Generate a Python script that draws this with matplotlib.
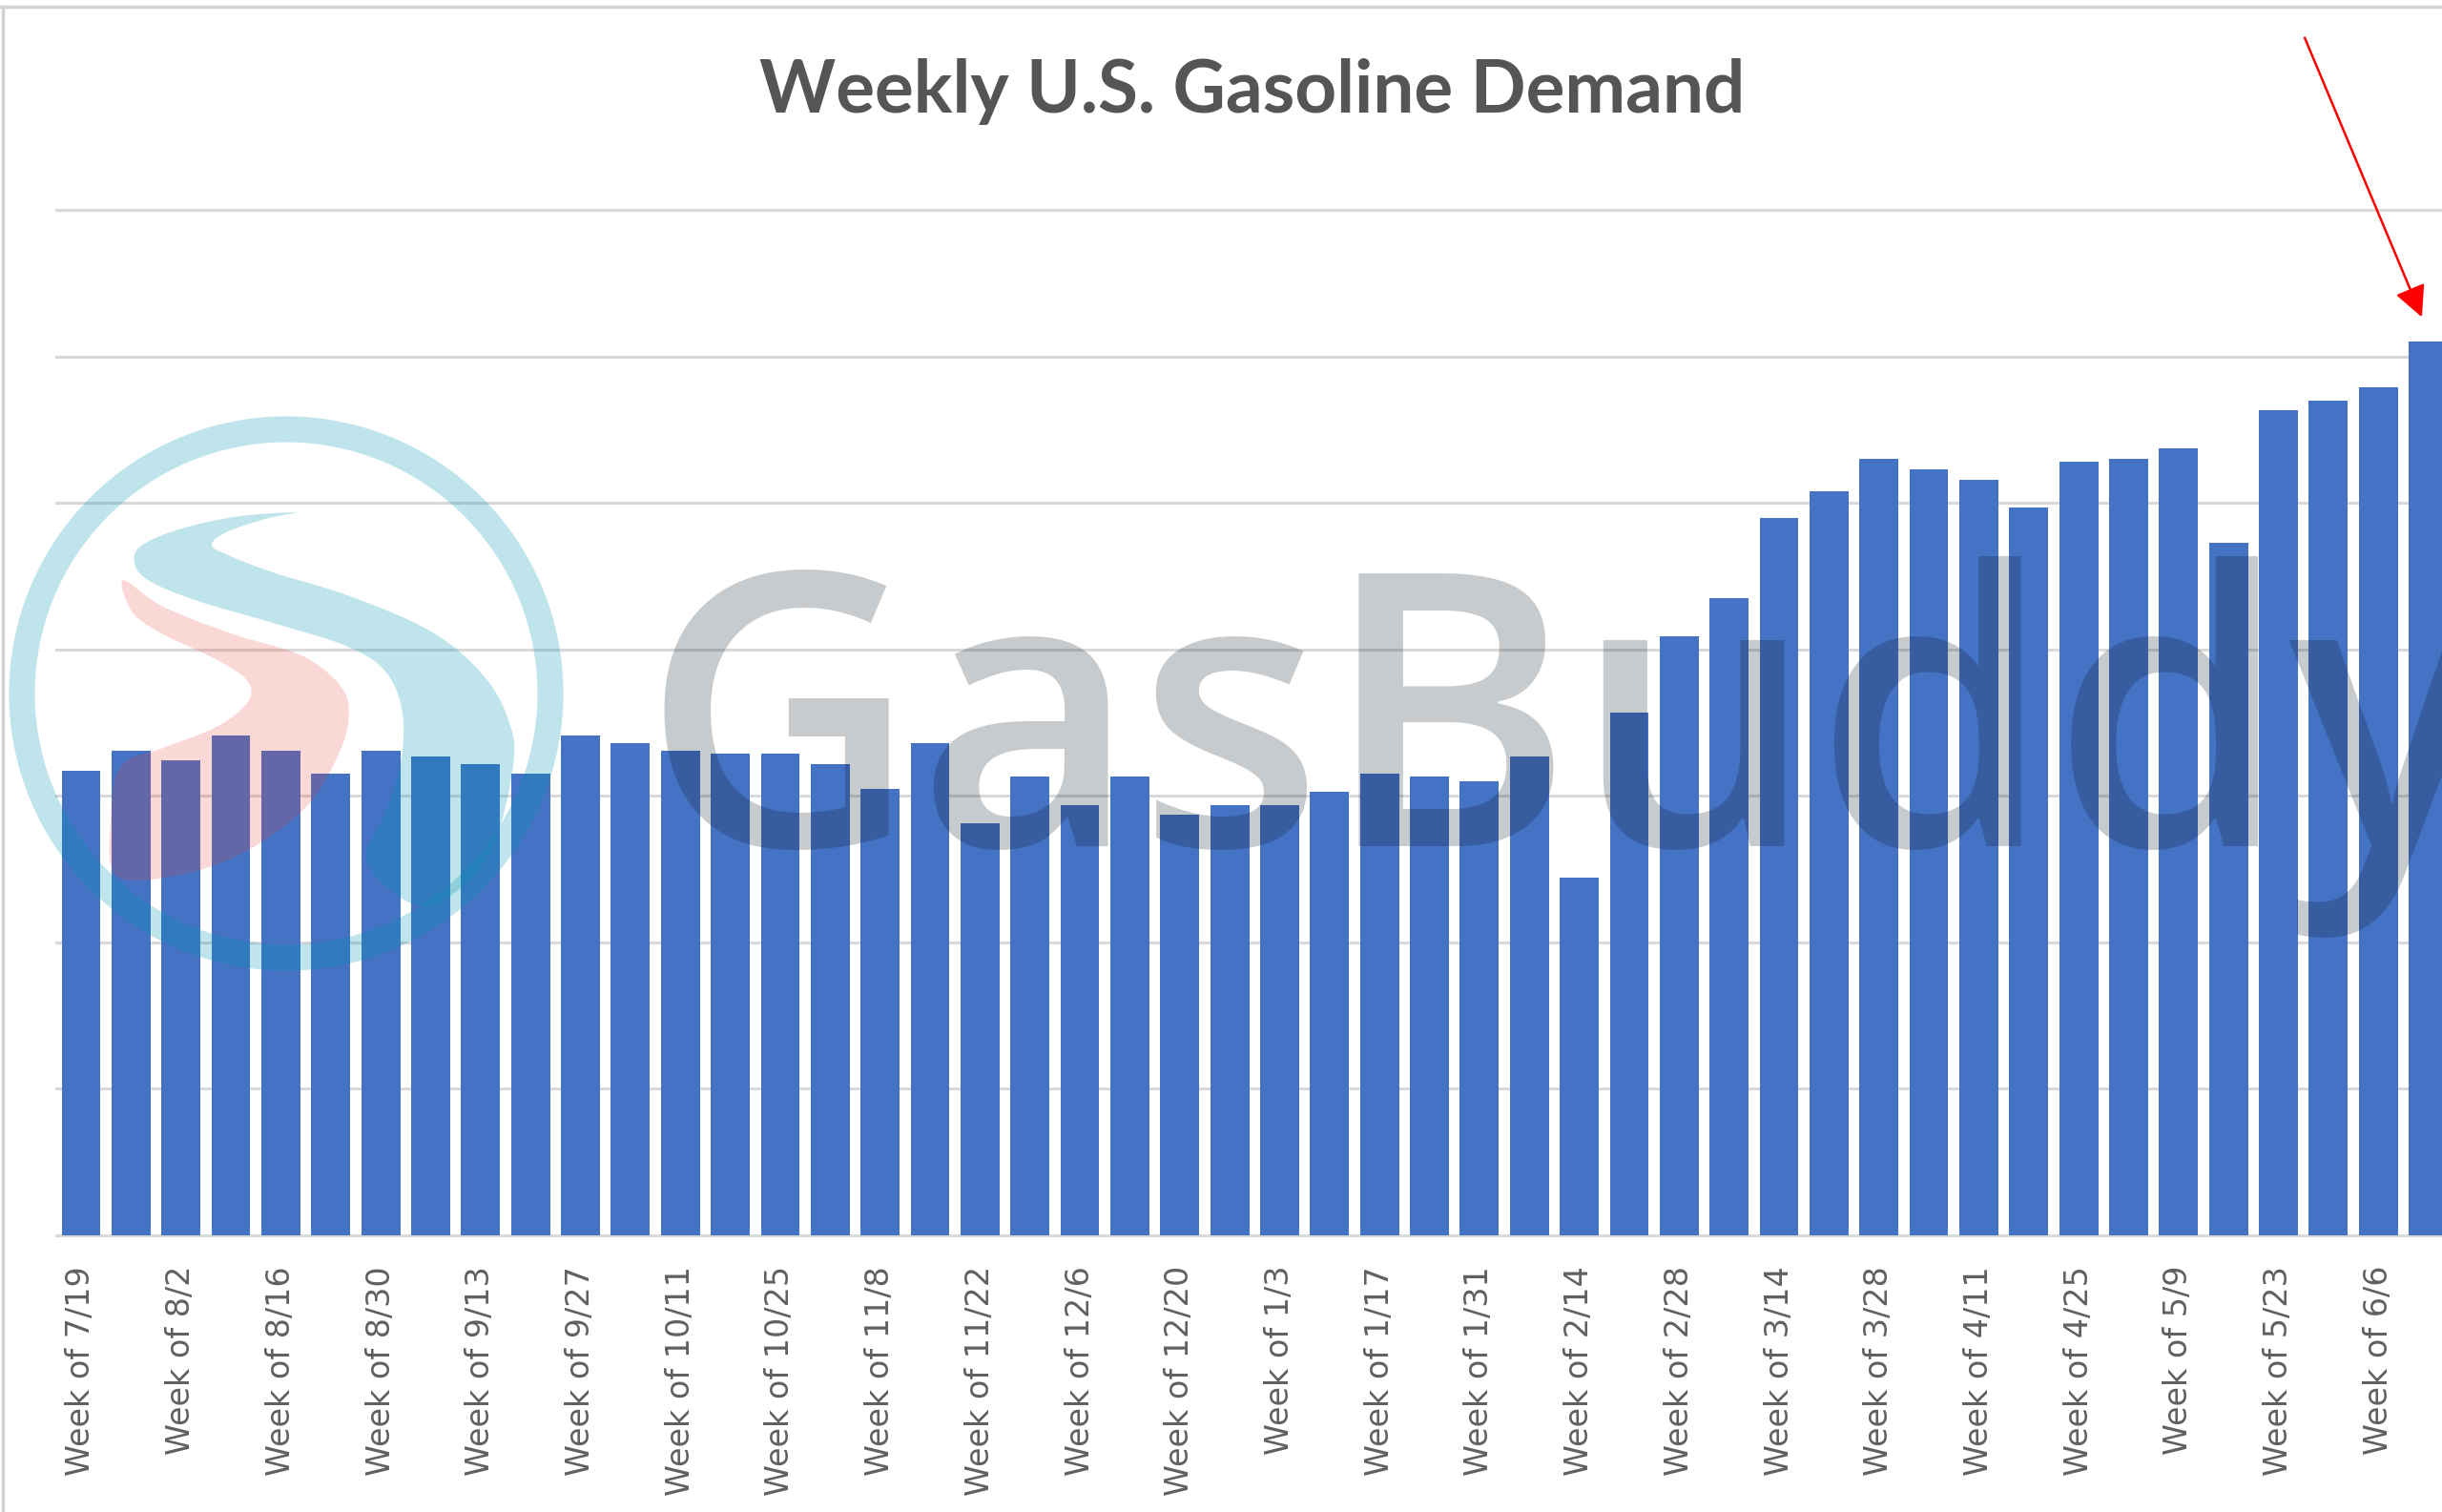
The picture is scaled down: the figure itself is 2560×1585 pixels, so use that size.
import numpy as np
import matplotlib.pyplot as plt
from matplotlib.patches import Circle, Polygon, FancyArrowPatch

# week starting dates (2020-2021), one bar per week
weeks = ["7/19", "7/26", "8/2", "8/9", "8/16", "8/23", "8/30", "9/6", "9/13", "9/20",
         "9/27", "10/4", "10/11", "10/18", "10/25", "11/1", "11/8", "11/15", "11/22", "11/29",
         "12/6", "12/13", "12/20", "12/27", "1/3", "1/10", "1/17", "1/24", "1/31", "2/7",
         "2/14", "2/21", "2/28", "3/7", "3/14", "3/21", "3/28", "4/4", "4/11", "4/18",
         "4/25", "5/2", "5/9", "5/16", "5/23", "5/30", "6/6", "6/13"]

# bar heights, in gridline units (y axis labels are cut off in the source)
demand = [3.17, 3.31, 3.24, 3.41, 3.31, 3.15, 3.31, 3.27, 3.22, 3.15,
          3.41, 3.36, 3.31, 3.29, 3.29, 3.22, 3.05, 3.36, 2.81, 3.13,
          2.94, 3.13, 2.87, 2.94, 2.94, 3.03, 3.15, 3.13, 3.10, 3.27,
          2.44, 3.57, 4.09, 4.35, 4.90, 5.08, 5.30, 5.23, 5.16, 4.97,
          5.28, 5.30, 5.37, 4.73, 5.63, 5.70, 5.79, 6.10]

grid_levels = [0, 1, 2, 3, 4, 5, 6, 7]

BLUE = "#4472C4"
GRID = "#d9d9d9"
TXT = "#555555"

fig = plt.figure(figsize=(25.6, 15.85), dpi=100)
fig.patch.set_facecolor("white")

ax = fig.add_axes([58.8 / 2560, 290 / 1585, 2513 / 2560, 1075 / 1585])
x = np.arange(len(weeks))
ax.bar(x, demand, width=0.78, color=BLUE, zorder=2)
for g in grid_levels:
    ax.axhline(g, color=GRID, lw=2.2, zorder=1, clip_on=False)

ax.set_xlim(-0.5, len(weeks) - 0.5)
ax.set_ylim(0, 7)
ax.set_yticks([])
ax.set_xticks(x[::2])
ax.set_xticklabels(["Week of " + w for w in weeks[::2]], rotation=90,
                   fontsize=24, color="#606060", family="DejaVu Sans")
ax.tick_params(axis="x", length=0, pad=23)
for s in ax.spines.values():
    s.set_visible(False)

# pixel-space overlay: frame, title, watermark, arrow
ov = fig.add_axes([0, 0, 1, 1])
ov.set_xlim(0, 2560)
ov.set_ylim(1585, 0)
ov.axis("off")
ov.patch.set_alpha(0)

ov.plot([0, 2560], [7, 7], color="#d2d2d2", lw=2.5)
ov.plot([3, 3], [7, 1585], color="#d2d2d2", lw=2.5)

ov.text(1313, 118, "Weekly U.S. Gasoline Demand", ha="center", va="baseline",
        fontsize=55, fontweight="bold", color=TXT, family="Lato")


def smooth(pts, n=10):
    p = np.array(pts, dtype=float)
    out = []
    m = len(p)
    for i in range(m):
        p0, p1, p2, p3 = p[i - 1], p[i], p[(i + 1) % m], p[(i + 2) % m]
        for t in np.linspace(0, 1, n, endpoint=False):
            t2, t3 = t * t, t * t * t
            out.append(0.5 * ((2 * p1) + (-p0 + p2) * t + (2 * p0 - 5 * p1 + 4 * p2 - p3) * t2
                              + (-p0 + 3 * p1 - 3 * p2 + p3) * t3))
    return np.array(out)


# GasBuddy watermark
ov.add_patch(Circle((300, 727), 277, fill=False, lw=19.5, ec=(0, 0.58, 0.69), alpha=0.25))
blue_s = [(310, 537), (245, 542), (184, 556), (147, 573), (141, 590), (155, 608), (204, 629),
          (286, 653), (365, 678), (405, 705), (422, 748), (420, 800), (405, 850), (385, 905),
          (445, 950), (510, 900), (538, 803), (532, 752), (505, 706), (452, 662), (367, 625),
          (286, 600), (237, 581), (222, 571), (237, 558), (278, 544)]
ov.add_patch(Polygon(smooth(blue_s), closed=True, fc=(0, 0.58, 0.69), ec="none", alpha=0.25))
pink_s = [(129, 608), (171, 636), (245, 665), (318, 688), (359, 722), (365, 757), (351, 799),
          (318, 849), (253, 895), (184, 918), (122, 918), (116, 860), (127, 803), (171, 784),
          (229, 761), (261, 734), (257, 711), (220, 688), (171, 665), (139, 642)]
ov.add_patch(Polygon(smooth(pink_s), closed=True, fc=(0.9, 0.24, 0.2), ec="none", alpha=0.2))
ov.text(672, 887, "GasBuddy", ha="left", va="baseline", fontsize=287, fontweight=600,
        color=(0.04, 0.09, 0.145), alpha=0.225, family="Open Sans")

# red arrow pointing at the latest week
ov.add_patch(FancyArrowPatch((2415, 37), (2540, 335), arrowstyle="-|>,head_length=1.0,head_width=0.5",
                             mutation_scale=20, color="red", lw=1.8))

fig.savefig("out.png", dpi=100)
